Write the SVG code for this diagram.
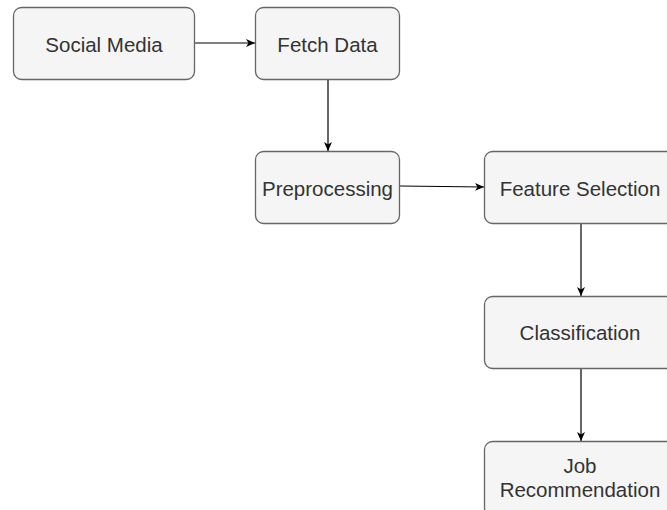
<svg xmlns="http://www.w3.org/2000/svg" width="667" height="510" viewBox="0 0 667 510">
<defs>
<marker id="arr" markerWidth="10" markerHeight="10" refX="9" refY="5" orient="auto" markerUnits="userSpaceOnUse">
<path d="M0,1 L9,5 L0,9 L2.5,5 Z" fill="#000"/>
</marker>
<style>
.box{fill:#f5f5f5;stroke:#666;stroke-width:1.3}
.t{font-family:"Liberation Sans",Arial,sans-serif;font-size:20.5px;fill:#333;text-anchor:middle}
.e{stroke:#000;stroke-width:1.2;fill:none;marker-end:url(#arr)}
</style>
</defs>
<rect width="667" height="510" fill="#fff"/>
<g id="connectors">
<line class="e" x1="195" y1="43" x2="255" y2="43"/>
<line class="e" x1="328" y1="80" x2="328" y2="151"/>
<line class="e" x1="400" y1="186" x2="484" y2="187"/>
<line class="e" x1="581" y1="224" x2="581" y2="296"/>
<line class="e" x1="581" y1="369" x2="581" y2="441"/>
</g>
<g id="social-media"><rect class="box" x="13.5" y="7.5" width="181" height="72" rx="8"/><text class="t" x="104" y="52">Social Media</text></g>
<g id="fetch-data"><rect class="box" x="255.5" y="7.5" width="144" height="72" rx="8"/><text class="t" x="327.5" y="52">Fetch Data</text></g>
<g id="preprocessing"><rect class="box" x="255.5" y="151.5" width="144" height="72" rx="8"/><text class="t" x="327.5" y="196">Preprocessing</text></g>
<g id="feature-selection"><rect class="box" x="484.5" y="151.5" width="194" height="72" rx="8"/><text class="t" x="580" y="196">Feature Selection</text></g>
<g id="classification"><rect class="box" x="484.5" y="296.5" width="194" height="72" rx="8"/><text class="t" x="580" y="340">Classification</text></g>
<g id="job-recommendation"><rect class="box" x="484.5" y="441.5" width="194" height="74" rx="8"/><text class="t" x="580" y="473">Job</text><text class="t" x="580" y="497">Recommendation</text></g>
</svg>
